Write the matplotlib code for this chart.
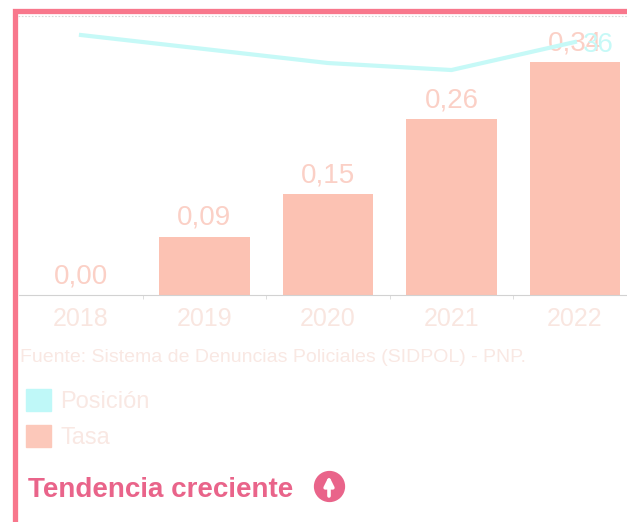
import matplotlib
matplotlib.use("Agg")
import matplotlib.pyplot as plt
from matplotlib.patches import Patch, Rectangle, FancyArrowPatch

# Data
years = ["2018", "2019", "2020", "2021", "2022"]
tasa = [0.00, 0.086, 0.149, 0.26, 0.344]
posicion = [37, 35, 33, 32, 36]
fuente = "Fuente: Sistema de Denuncias Policiales (SIDPOL) - PNP."

W, H = 627, 522
plt.rcParams["font.family"] = ["Liberation Sans", "DejaVu Sans"]

fig = plt.figure(figsize=(W / 100, H / 100), dpi=100)

# pixel position -> figure fraction
def fx(x):
    return x / W

def fy(y):
    return 1 - y / H

# Bars
ax = fig.add_axes([fx(19), fy(295), fx(609), fy(15) - fy(295)])
x = list(range(len(years)))
ax.bar(x, tasa, width=0.735, color="#fcc2b3")
ax.set_xlim(-0.502, 4.43)
ax.set_ylim(0, 0.4136)
ax.set_yticks([])
ax.set_xticks(x)
ax.set_xticklabels(years, fontsize=18, color="#f9e6e0")
ax.set_xticks([i + 0.5 for i in x[:-1]], minor=True)
ax.tick_params(axis="x", which="major", length=0, pad=9)
ax.tick_params(axis="x", which="minor", length=3, color="#dddddd", width=0.7)
for s in ["top", "left", "right"]:
    ax.spines[s].set_visible(False)
ax.spines["bottom"].set_color("#d2d2d2")
ax.spines["bottom"].set_linewidth(0.8)
ax.spines["bottom"].set_linestyle((0, (2, 1)))
ax.patch.set_alpha(0)

for i, v in enumerate(tasa):
    ax.annotate(f"{v:.2f}".replace(".", ","), (i, v), xytext=(0, 8.5),
                textcoords="offset points", ha="center", va="baseline",
                fontsize=20, color="#fbd0c6", zorder=4)

# Line
ax2 = ax.twinx()
ax2.plot(x, posicion, color="#c6f9f7", linewidth=3, zorder=2)
ax2.set_ylim(-0.14, 39.86)
ax2.set_yticks([])
for s in ax2.spines.values():
    s.set_visible(False)
ax2.annotate(str(posicion[-1]), (x[-1], posicion[-1]), xytext=(17, -7),
             textcoords="offset points", ha="center", va="baseline",
             fontsize=20, color="#c6f9f7", zorder=3)

# Border
fig.add_artist(Rectangle((fx(15), fy(560)), fx(660), fy(10.5) - fy(560), fill=False,
                         edgecolor="#f8778c", linewidth=3.8, transform=fig.transFigure))
fig.add_artist(plt.Line2D([fx(18), 1], [fy(16), fy(16)], color="#d8d8d8", linewidth=0.8,
                          linestyle=(0, (1.5, 1.5)), transform=fig.transFigure))

# Source
fig.text(fx(20), fy(357), fuente, fontsize=14, color="#f9e8e3", va="center", ha="left")

# Legend
handles = [Patch(color="#bff8f8", label="Posición"), Patch(color="#fcc8ba", label="Tasa")]
leg = fig.legend(handles=handles, loc="upper left", bbox_to_anchor=(fx(26), fy(389)),
                 frameon=False, fontsize=17, borderpad=0, borderaxespad=0, handlelength=1.05,
                 handleheight=1.05, handletextpad=0.4, labelspacing=0.52, labelcolor="#f9e8e3")

# Trend
fig.text(fx(28), fy(490), "Tendencia creciente", fontsize=20, fontweight="bold",
         color="#e9648a", va="center", ha="left")
fig.add_artist(plt.Line2D([fx(329)], [fy(486)], marker="o", markersize=21.5, color="#e9648a",
                          transform=fig.transFigure, zorder=5))
fig.add_artist(FancyArrowPatch((fx(329), fy(496)), (fx(329), fy(476)), arrowstyle="-|>",
                               mutation_scale=14, linewidth=2.6, color="white",
                               shrinkA=0, shrinkB=0, transform=fig.transFigure, zorder=6))

fig.savefig("out.png", dpi=100)
